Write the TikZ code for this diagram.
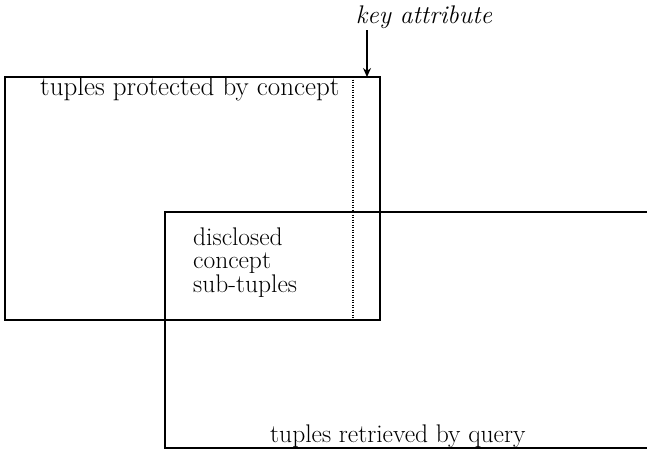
\documentclass[tikz,border=0pt]{standalone}
\usetikzlibrary{arrows.meta}
\begin{document}
\begin{tikzpicture}[x=1pt,y=-1pt,
  frame/.style={line width=1.3pt},
  keyline/.style={line width=1.2pt, dash pattern=on 1.2pt off 1.3pt},
  label/.style={inner sep=0pt, font=\fontsize{25.5}{23.5}\selectfont},
  pointer/.style={line width=1.3pt, -{Stealth[length=9pt,width=8pt]}}]
  \useasboundingbox (0,0) rectangle (647,456);

  % relation of tuples protected by the concept
  \draw[frame] (5,77) rectangle (380,320);
  \coordinate (keytop) at (353,77);
  \coordinate (keybot) at (353,320);
  \draw[keyline] (keytop) -- (keybot);

  % tuples retrieved by the query, running off to the right
  \draw[frame] (647,212) -- (165,212) -- (165,448) -- (647,448);

  % key attribute marker
  \node[label, font=\fontsize{25.5}{23.5}\selectfont\itshape, anchor=base] (key) at (424,23) {key attribute};
  \coordinate (keyfrom) at (367,30);
  \coordinate (keyto) at (367,77);
  \draw[pointer] (keyfrom) -- (keyto);

  % labels
  \node[label, font=\fontsize{27}{24}\selectfont, anchor=base west] (prot) at (40,95) {tuples protected by concept};
  \node[label, anchor=base west, align=left] (disc) at (193,292)
    {disclosed\\concept\\sub-tuples};
  \node[label, anchor=base west] (retr) at (270,442) {tuples retrieved by query};
\end{tikzpicture}
\end{document}
